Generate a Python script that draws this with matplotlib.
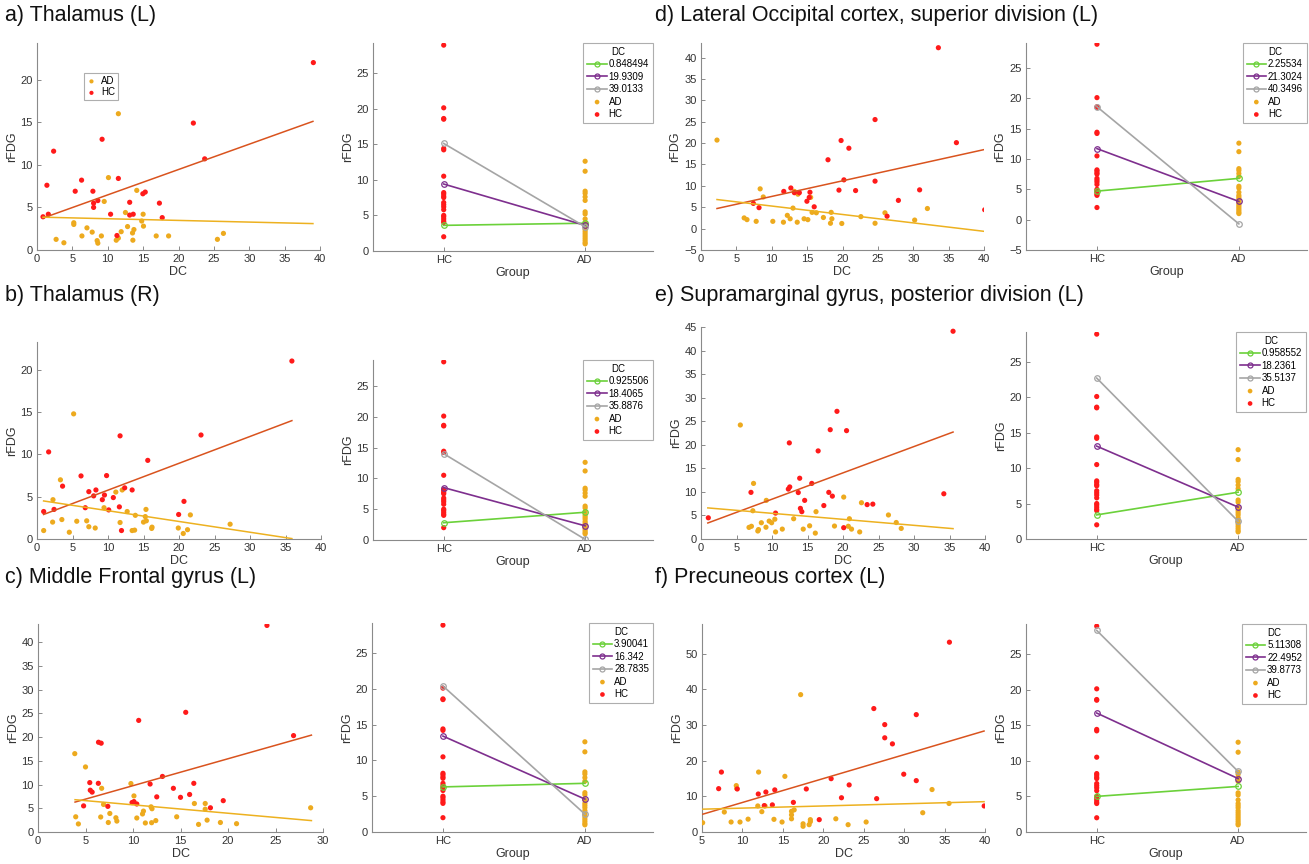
import matplotlib
matplotlib.use("Agg")
import matplotlib.pyplot as plt
import numpy as np

plt.rcParams['font.family'] = ['Liberation Sans', 'DejaVu Sans']

W, H = 1309, 864

# ---------------- data ----------------
titles = ["a) Thalamus (L)", "b) Thalamus (R)", "c) Middle Frontal gyrus (L)",
          "d) Lateral Occipital cortex, superior division (L)",
          "e) Supramarginal gyrus, posterior division (L)", "f) Precuneous cortex (L)"]

# panel a
a_hc_x = [39.06, 22.1, 23.7, 2.35, 1.4, 9.2, 6.3, 5.4, 7.9, 11.5, 0.85, 1.6, 8.0, 8.0, 8.6, 10.4, 13.1, 13.1, 13.6, 14.96, 15.3, 17.3, 17.7, 11.3]
a_hc_y = [22.0, 14.9, 10.7, 11.6, 7.6, 13.0, 8.2, 6.9, 6.9, 8.4, 3.9, 4.2, 5.5, 5.0, 5.8, 4.2, 5.6, 4.1, 4.2, 6.6, 6.8, 5.5, 3.8, 1.7]
a_ad_x = [11.5, 10.1, 9.5, 14.1, 12.5, 15.0, 14.8, 15.05, 5.2, 5.2, 7.06, 7.8, 6.35, 9.1, 8.5, 8.6, 2.7, 3.8, 11.9, 12.8, 13.5, 13.7, 13.55, 11.2, 11.5, 16.85, 18.6, 26.35, 25.5]
a_ad_y = [16.0, 8.5, 5.7, 7.0, 4.4, 4.2, 3.4, 2.8, 3.2, 3.0, 2.6, 2.1, 1.65, 1.65, 1.1, 0.8, 1.25, 0.85, 2.15, 2.75, 2.0, 2.4, 1.15, 1.15, 1.4, 1.65, 1.65, 1.95, 1.25]
a_hc_line = ([0.85, 39.0], [3.75, 15.1])
a_ad_line = ([0.85, 39.0], [3.85, 3.1])

# panel b
b_hc_x = [35.9, 23.1, 11.7, 1.64, 15.6, 6.2, 9.8, 3.6, 7.3, 8.3, 7.98, 9.5, 9.2, 12.35, 13.4, 10.75, 0.94, 2.4, 6.8, 10.1, 11.6, 20.7, 19.95, 11.9]
b_hc_y = [21.05, 12.3, 12.2, 10.3, 9.3, 7.46, 7.5, 6.25, 5.6, 5.8, 5.1, 5.2, 4.65, 6.05, 5.8, 4.9, 3.25, 3.5, 3.7, 3.44, 3.8, 4.45, 2.9, 1.0]
b_ad_x = [5.16, 3.3, 2.25, 11.1, 12.0, 9.44, 2.2, 3.5, 5.6, 7.0, 7.3, 8.2, 4.55, 0.94, 12.7, 15.35, 15.25, 15.4, 15.0, 13.85, 11.7, 13.4, 13.75, 16.2, 16.15, 21.6, 19.9, 21.2, 20.6, 27.2]
b_ad_y = [14.8, 7.0, 4.65, 5.55, 5.8, 3.7, 2.0, 2.3, 2.1, 2.15, 1.45, 1.3, 0.8, 1.0, 3.25, 3.5, 2.65, 2.15, 2.0, 2.8, 1.95, 1.0, 1.05, 1.4, 1.25, 2.85, 1.3, 1.1, 0.65, 1.75]
b_hc_line = ([0.93, 35.9], [2.9, 14.0])
b_ad_line = ([0.93, 35.9], [4.5, 0.05])

# panel c
c_hc_x = [24.1, 15.55, 10.6, 6.37, 6.65, 26.9, 13.1, 5.45, 6.35, 5.5, 5.7, 11.8, 16.4, 14.25, 15.96, 12.5, 15.0, 19.5, 9.9, 10.1, 10.4, 4.8, 7.35, 18.15]
c_hc_y = [43.5, 25.2, 23.5, 18.9, 18.7, 20.3, 11.7, 10.4, 10.25, 8.8, 8.4, 10.1, 10.25, 9.2, 7.9, 7.4, 7.3, 6.6, 6.2, 6.4, 5.9, 5.5, 5.4, 5.1]
c_ad_x = [3.87, 5.0, 9.78, 6.7, 10.1, 6.9, 7.56, 6.6, 3.97, 4.25, 7.4, 8.2, 8.3, 10.4, 11.1, 11.0, 11.9, 12.0, 11.3, 11.96, 12.4, 14.6, 16.46, 17.6, 17.6, 17.8, 16.9, 19.2, 20.9, 28.7]
c_ad_y = [16.5, 13.7, 10.2, 9.2, 7.6, 5.8, 3.9, 3.16, 3.2, 1.7, 2.0, 3.0, 2.3, 2.95, 4.4, 3.8, 5.3, 4.9, 1.9, 1.96, 2.4, 3.2, 6.0, 6.0, 4.8, 2.5, 1.6, 2.0, 1.75, 5.1]
c_hc_line = ([3.9, 28.78], [6.3, 20.4])
c_ad_line = ([3.9, 28.78], [6.8, 2.4])

# panel d
d_hc_x = [33.55, 24.6, 19.8, 20.9, 36.1, 17.95, 20.2, 24.6, 19.5, 21.85, 30.9, 12.7, 11.7, 13.2, 13.9, 15.4, 15.3, 14.97, 16.0, 27.9, 26.3, 7.4, 8.2, 40.1]
d_hc_y = [42.3, 25.5, 20.6, 18.8, 20.1, 16.1, 11.4, 11.1, 9.0, 8.9, 9.06, 9.5, 8.7, 8.4, 8.4, 8.5, 7.3, 6.4, 5.1, 6.6, 2.9, 5.9, 4.9, 4.4]
d_ad_x = [2.26, 8.36, 8.8, 13.2, 13.7, 15.5, 13.0, 6.1, 6.5, 7.8, 10.15, 11.65, 13.6, 12.2, 12.6, 14.57, 15.1, 15.7, 16.3, 17.3, 18.4, 18.5, 18.3, 19.9, 22.6, 24.6, 26.0, 30.2, 32.0]
d_ad_y = [20.7, 9.3, 7.4, 8.7, 8.05, 7.3, 4.8, 2.5, 2.1, 1.7, 1.7, 1.5, 1.5, 3.1, 2.3, 2.3, 2.1, 3.8, 3.7, 2.6, 3.8, 2.3, 1.25, 1.2, 2.8, 1.25, 3.7, 2.0, 4.7]
d_hc_line = ([2.26, 40.35], [4.7, 18.6])
d_ad_line = ([2.26, 40.35], [6.8, -0.7])

# panel e
e_hc_x = [35.5, 19.15, 18.2, 20.5, 12.44, 16.5, 12.5, 12.3, 13.9, 15.6, 7.04, 13.7, 18.0, 18.5, 14.6, 17.3, 23.4, 24.2, 14.0, 14.2, 10.5, 1.03, 34.2, 20.1]
e_hc_y = [44.1, 27.1, 23.2, 23.0, 20.4, 18.7, 11.05, 10.6, 12.9, 11.8, 9.9, 9.86, 9.9, 9.1, 8.2, 7.1, 7.3, 7.4, 6.5, 5.8, 5.5, 4.5, 9.6, 2.4]
e_ad_x = [5.54, 7.4, 9.2, 20.1, 22.6, 7.3, 16.2, 20.9, 26.4, 27.5, 28.2, 13.05, 10.4, 9.6, 9.95, 8.5, 6.76, 7.1, 9.15, 8.1, 8.0, 10.5, 11.45, 14.4, 15.3, 16.1, 18.8, 20.75, 21.2, 22.35]
e_ad_y = [24.2, 11.8, 8.2, 8.9, 7.7, 6.0, 5.8, 4.3, 5.1, 3.5, 2.25, 4.3, 4.2, 3.8, 3.45, 3.45, 2.46, 2.7, 2.5, 2.0, 1.7, 1.5, 2.1, 2.1, 2.8, 1.25, 2.75, 2.7, 2.1, 1.5]
e_hc_line = ([0.96, 35.5], [3.4, 22.7])
e_ad_line = ([0.96, 35.5], [6.6, 2.2])

# panel f
f_hc_x = [35.6, 26.25, 31.5, 27.6, 27.6, 28.55, 29.95, 31.5, 20.97, 17.9, 23.2, 22.25, 26.6, 7.4, 7.06, 9.36, 11.96, 12.9, 14.0, 12.7, 13.7, 16.3, 19.5, 39.9]
f_hc_y = [53.2, 34.6, 32.9, 30.1, 26.4, 24.7, 16.2, 14.4, 14.95, 12.06, 13.2, 9.6, 9.35, 16.8, 12.15, 12.06, 10.65, 11.2, 11.8, 7.4, 7.6, 8.3, 3.46, 7.3]
f_ad_x = [17.2, 12.0, 15.25, 9.24, 9.3, 33.45, 35.55, 32.3, 11.9, 12.8, 12.4, 7.76, 16.4, 16.07, 16.07, 16.07, 10.7, 13.9, 18.4, 18.4, 21.55, 8.6, 9.7, 14.9, 25.3, 5.08, 17.5, 17.5, 18.25, 23.07]
f_ad_y = [38.5, 16.8, 15.6, 13.0, 12.2, 11.9, 8.0, 5.4, 7.3, 7.3, 5.7, 5.6, 6.2, 5.8, 4.8, 3.7, 3.6, 3.55, 3.46, 2.9, 3.7, 2.8, 2.8, 2.8, 2.8, 2.6, 2.3, 1.6, 2.05, 2.05]
f_hc_line = ([5.11, 39.88], [5.0, 28.3])
f_ad_line = ([5.11, 39.88], [6.4, 8.5])

# interaction plots (same group rFDG values in every panel)
group_labels = ["HC", "AD"]
hc_rfdg = [28.9, 20.1, 18.6, 18.5, 14.4, 14.2, 10.5, 8.2, 8.0, 7.7, 7.5, 6.8, 6.5, 6.2, 5.8, 5.0, 4.8, 4.5, 4.2, 4.0, 2.0]
ad_rfdg = [12.6, 11.2, 8.4, 8.1, 7.6, 7.1, 5.5, 5.2, 4.5, 4.0, 3.7, 3.4, 3.0, 2.7, 2.4, 2.1, 1.8, 1.5, 1.2, 1.0]

dc_levels = {
    'a': ["0.848494", "19.9309", "39.0133"],
    'b': ["0.925506", "18.4065", "35.8876"],
    'c': ["3.90041", "16.342", "28.7835"],
    'd': ["2.25534", "21.3024", "40.3496"],
    'e': ["0.958552", "18.2361", "35.5137"],
    'f': ["5.11308", "22.4952", "39.8773"],
}
# (HC value, AD value) for each DC level: low, mid, high
inter_vals = {
    'a': [(3.6, 3.9), (9.4, 3.6), (15.1, 3.4)],
    'b': [(2.8, 4.5), (8.5, 2.3), (14.0, 0.1)],
    'c': [(6.3, 6.8), (13.4, 4.6), (20.4, 2.5)],
    'd': [(4.7, 6.8), (11.7, 3.0), (18.6, -0.7)],
    'e': [(3.4, 6.6), (13.1, 4.5), (22.7, 2.5)],
    'f': [(5.0, 6.4), (16.7, 7.5), (28.3, 8.5)],
}

# ---------------- style ----------------
C_AD = '#EDAA1E'
C_HC = '#FF1A1A'
C_HCLINE = '#D9531E'
C_ADLINE = '#EDB120'
C_LVL = ['#6BD13A', '#7E2F8E', '#A5A5A5']
SPINE = '#8A8A8A'
TXT = '#333333'


def rect(l, t, r, b):
    return [l / W, 1 - b / H, (r - l) / W, (b - t) / H]


def style(ax):
    for s in ['top', 'right']:
        ax.spines[s].set_visible(False)
    for s in ['left', 'bottom']:
        ax.spines[s].set_color(SPINE)
        ax.spines[s].set_linewidth(0.8)
    ax.tick_params(direction='in', length=3, width=0.7, color=SPINE,
                   labelsize=8, labelcolor=TXT, pad=3)


fig = plt.figure(figsize=(W / 100, H / 100), dpi=100)

scatter_specs = {
    'a': dict(rect=(37, 43, 320, 250), hc=(a_hc_x, a_hc_y), ad=(a_ad_x, a_ad_y),
              hl=a_hc_line, al=a_ad_line, xlim=(0, 40), ylim=(0, 24.3),
              xt=np.arange(0, 41, 5), yt=np.arange(0, 21, 5)),
    'b': dict(rect=(37, 342, 321, 539), hc=(b_hc_x, b_hc_y), ad=(b_ad_x, b_ad_y),
              hl=b_hc_line, al=b_ad_line, xlim=(0, 40), ylim=(0, 23.3),
              xt=np.arange(0, 41, 5), yt=np.arange(0, 21, 5)),
    'c': dict(rect=(38, 624, 323, 832), hc=(c_hc_x, c_hc_y), ad=(c_ad_x, c_ad_y),
              hl=c_hc_line, al=c_ad_line, xlim=(0, 30), ylim=(0, 43.8),
              xt=np.arange(0, 31, 5), yt=np.arange(0, 41, 5)),
    'd': dict(rect=(701, 43, 984, 250), hc=(d_hc_x, d_hc_y), ad=(d_ad_x, d_ad_y),
              hl=d_hc_line, al=d_ad_line, xlim=(0, 40.0), ylim=(-5, 43.4),
              xt=np.arange(0, 41, 5), yt=np.arange(-5, 41, 5)),
    'e': dict(rect=(701, 327, 985, 539), hc=(e_hc_x, e_hc_y), ad=(e_ad_x, e_ad_y),
              hl=e_hc_line, al=e_ad_line, xlim=(0, 40), ylim=(0, 45),
              xt=np.arange(0, 41, 5), yt=np.arange(0, 46, 5)),
    'f': dict(rect=(702, 624, 985, 832), hc=(f_hc_x, f_hc_y), ad=(f_ad_x, f_ad_y),
              hl=f_hc_line, al=f_ad_line, xlim=(5, 40), ylim=(0, 58.3),
              xt=np.arange(5, 41, 5), yt=np.arange(0, 51, 10)),
}

inter_specs = {
    'a': dict(rect=(373, 43, 653, 251), ylim=(0, 29.2), yt=np.arange(0, 26, 5)),
    'b': dict(rect=(373, 360, 653, 540), ylim=(0, 29.2), yt=np.arange(0, 26, 5)),
    'c': dict(rect=(372, 623, 653, 832), ylim=(0, 29.2), yt=np.arange(0, 26, 5)),
    'd': dict(rect=(1026, 43, 1307, 250), ylim=(-5, 29.1), yt=np.arange(-5, 26, 5)),
    'e': dict(rect=(1026, 332, 1306, 539), ylim=(0, 29.2), yt=np.arange(0, 26, 5)),
    'f': dict(rect=(1026, 624, 1306, 832), ylim=(0, 29.2), yt=np.arange(0, 26, 5)),
}

for key, sp in scatter_specs.items():
    ax = fig.add_axes(rect(*sp['rect']))
    style(ax)
    ax.scatter(*sp['ad'], s=14, color=C_AD, edgecolors='none', zorder=3, label='AD')
    ax.scatter(*sp['hc'], s=14, color=C_HC, edgecolors='none', zorder=3, label='HC')
    ax.plot(*sp['hl'], color=C_HCLINE, lw=1.1, zorder=4)
    ax.plot(*sp['al'], color=C_ADLINE, lw=1.1, zorder=4)
    ax.set_xlim(*sp['xlim'])
    ax.set_ylim(*sp['ylim'])
    ax.set_xticks(sp['xt'])
    ax.set_yticks(sp['yt'])
    ax.set_xlabel('DC', fontsize=9, color=TXT, labelpad=1)
    ax.set_ylabel('rFDG', fontsize=9, color=TXT, labelpad=2)
    if key == 'a':
        leg = ax.legend(loc='upper left', bbox_to_anchor=(0.165, 0.855), fontsize=7,
                        fancybox=False, edgecolor='#9A9A9A', handletextpad=0.5,
                        borderpad=0.3, labelspacing=0.15, handlelength=1.0,
                        markerscale=0.8, borderaxespad=0.0)
        leg.get_frame().set_linewidth(0.8)

for key, sp in inter_specs.items():
    ax = fig.add_axes(rect(*sp['rect']))
    style(ax)
    handles = []
    for i, (lvl, col) in enumerate(zip(dc_levels[key], C_LVL)):
        hv, av = inter_vals[key][i]
        ln, = ax.plot([1, 2], [hv, av], color=col, lw=1.2, marker='o', ms=4,
                      mfc='none', mec=col, mew=0.9, zorder=4, label=lvl)
        handles.append(ln)
    h_ad = ax.scatter([2] * len(ad_rfdg), ad_rfdg, s=14, color=C_AD,
                      edgecolors='none', zorder=3, label='AD')
    h_hc = ax.scatter([1] * len(hc_rfdg), hc_rfdg, s=14, color=C_HC,
                      edgecolors='none', zorder=3, label='HC')
    ax.set_xlim(0.5, 2.48)
    ax.set_ylim(*sp['ylim'])
    ax.set_xticks([1, 2])
    ax.set_xticklabels(group_labels)
    ax.set_yticks(sp['yt'])
    ax.set_xlabel('Group', fontsize=9, color=TXT, labelpad=1)
    ax.set_ylabel('rFDG', fontsize=9, color=TXT, labelpad=2)
    leg = ax.legend(handles=handles + [h_ad, h_hc], loc='upper right',
                    bbox_to_anchor=(1.0, 1.0), fontsize=7, title='DC',
                    title_fontsize=7, fancybox=False, edgecolor='#9A9A9A',
                    handlelength=2.0, handletextpad=0.2, borderpad=0.4,
                    labelspacing=0.25, markerscale=0.9, borderaxespad=0.0)
    leg.get_frame().set_linewidth(0.8)

title_pos = [(5, 15), (5, 296), (5, 577), (655, 15), (655, 296), (655, 577)]
for t, (x, y) in zip(titles, title_pos):
    fig.text(x / W, 1 - y / H, t, fontsize=15.5, ha='left', va='center', color='#111111')

fig.savefig('out.png', dpi=100)
